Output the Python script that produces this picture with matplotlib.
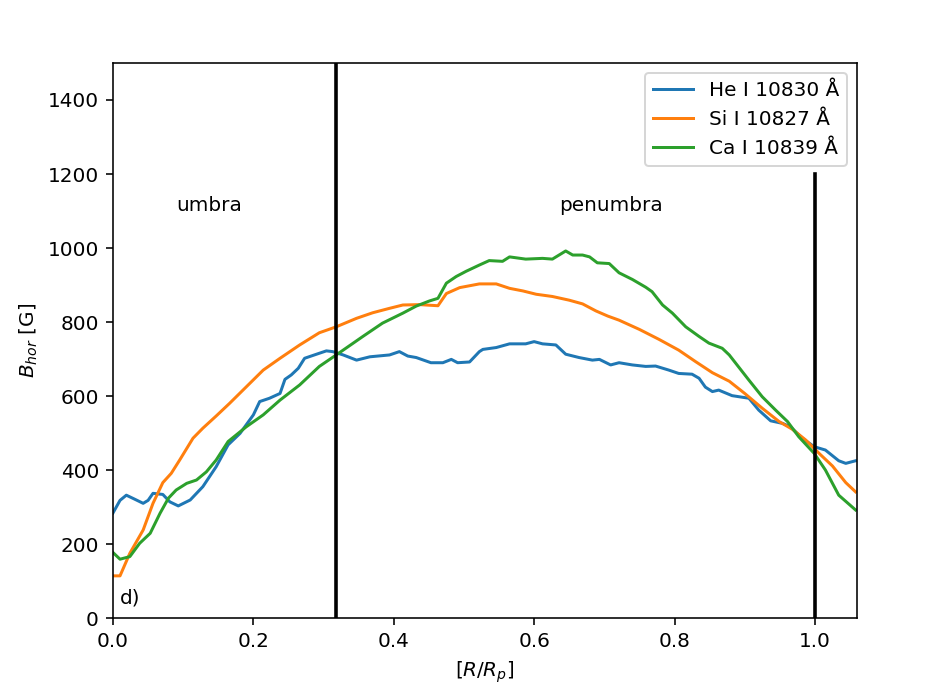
import numpy as np
import matplotlib
matplotlib.use("Agg")
import matplotlib.pyplot as plt

# He I 10830
he_r = [0.0, 0.01, 0.019, 0.03, 0.043, 0.05, 0.057, 0.071, 0.081, 0.093, 0.11, 0.128, 0.147,
        0.164, 0.181, 0.2, 0.209, 0.223, 0.238, 0.245, 0.254, 0.264, 0.273, 0.29, 0.304, 0.313,
        0.328, 0.347, 0.366, 0.394, 0.408, 0.42, 0.432, 0.453, 0.47, 0.482, 0.491, 0.508, 0.522,
        0.527, 0.546, 0.565, 0.588, 0.6, 0.612, 0.631, 0.645, 0.664, 0.683, 0.693, 0.709, 0.721,
        0.74, 0.759, 0.773, 0.792, 0.806, 0.825, 0.835, 0.844, 0.854, 0.863, 0.882, 0.906, 0.92,
        0.937, 0.954, 0.965, 0.982, 0.999, 1.015, 1.034, 1.044, 1.058]
he_b = [284, 318, 332, 322, 310, 318, 337, 334, 314, 303, 319, 355, 409,
        468, 499, 549, 585, 594, 607, 645, 657, 675, 702, 713, 722, 720,
        711, 697, 706, 711, 720, 708, 704, 690, 690, 699, 690, 692, 720,
        726, 731, 741, 741, 747, 741, 738, 713, 704, 697, 699, 684, 690,
        684, 680, 681, 670, 661, 659, 648, 624, 612, 616, 601, 594, 562,
        533, 526, 517, 486, 463, 454, 425, 418, 425]

# Si I 10827
si_r = [0.0, 0.01, 0.024, 0.043, 0.057, 0.071, 0.083, 0.095, 0.114, 0.128, 0.147, 0.166, 0.19,
        0.214, 0.238, 0.266, 0.294, 0.318, 0.347, 0.37, 0.394, 0.413, 0.437, 0.463, 0.475, 0.494,
        0.522, 0.546, 0.565, 0.584, 0.603, 0.626, 0.65, 0.669, 0.688, 0.705, 0.721, 0.75, 0.778,
        0.806, 0.83, 0.854, 0.878, 0.9, 0.925, 0.949, 0.968, 0.987, 1.006, 1.025, 1.044, 1.058]
si_b = [114, 114, 175, 238, 310, 366, 391, 427, 486, 513, 546, 580, 625,
        670, 702, 738, 771, 787, 810, 825, 837, 846, 847, 844, 877, 893,
        903, 903, 891, 884, 875, 869, 859, 849, 830, 816, 805, 780, 753,
        724, 693, 663, 640, 607, 567, 531, 510, 481, 445, 411, 366, 341]

# Ca I 10839
ca_r = [0.0, 0.01, 0.024, 0.038, 0.053, 0.067, 0.079, 0.09, 0.105, 0.119, 0.133, 0.147, 0.164,
        0.19, 0.214, 0.238, 0.266, 0.294, 0.318, 0.356, 0.384, 0.413, 0.432, 0.451, 0.463, 0.475,
        0.489, 0.503, 0.522, 0.536, 0.555, 0.565, 0.588, 0.612, 0.626, 0.645, 0.655, 0.669, 0.679,
        0.69, 0.707, 0.721, 0.74, 0.759, 0.768, 0.783, 0.797, 0.816, 0.835, 0.849, 0.868, 0.878,
        0.906, 0.925, 0.944, 0.961, 0.977, 0.999, 1.015, 1.034, 1.058]
ca_b = [177, 159, 166, 202, 229, 283, 324, 346, 364, 373, 395, 427, 477,
        517, 549, 589, 630, 680, 711, 761, 797, 824, 843, 857, 864, 905,
        923, 937, 954, 966, 964, 976, 970, 972, 970, 992, 981, 981, 976,
        960, 958, 933, 915, 894, 882, 846, 824, 787, 761, 743, 729, 711,
        643, 598, 562, 531, 490, 445, 400, 332, 292]

umbra_edge = 0.318
penumbra_edge = 1.0

fig = plt.figure(figsize=(930 / 144, 690 / 144), dpi=144)
ax = fig.add_axes([0.1215, 0.1043, 0.8, 0.8044])

ax.plot(he_r, he_b, label="He I 10830 Å")
ax.plot(si_r, si_b, label="Si I 10827 Å")
ax.plot(ca_r, ca_b, label="Ca I 10839 Å")
ax.plot([umbra_edge, umbra_edge], [0, 1500], color="black", lw=1.8)
ax.plot([penumbra_edge, penumbra_edge], [0, 1200], color="black", lw=1.8)

ax.text(0.09, 1100, "umbra")
ax.text(0.635, 1100, "penumbra")
ax.text(0.01, 40, "d)")

ax.set_xlim(0, 1.06)
ax.set_ylim(0, 1500)
ax.set_xlabel(r"$[R/R_p]$")
ax.set_ylabel(r"$B_{hor}$ [G]")
ax.legend(loc="upper right")

fig.savefig("out.png", dpi=144)
